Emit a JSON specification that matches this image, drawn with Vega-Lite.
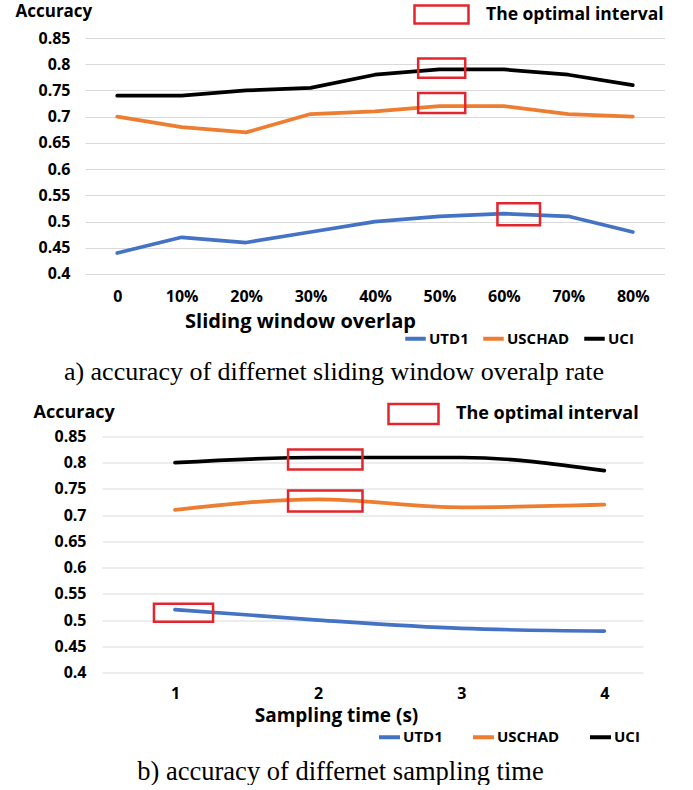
{
  "$schema": "https://vega.github.io/schema/vega-lite/v6.json",
  "background": "white",
  "padding": {"left": 14, "top": 2, "right": 0, "bottom": 0},
  "spacing": 17.5,
  "resolve": {"scale": {"color": "independent", "stroke": "independent", "x": "independent", "y": "independent"}, "legend": {"color": "independent", "stroke": "independent"}},
  "config": {
    "view": {"stroke": null},
    "font": "Open Sans",
    "axis": {"labelColor": "black", "titleColor": "black", "labelFontWeight": "bold", "titleFontWeight": "bold", "labelOverlap": false, "tickCount": 20},
    "legend": {"labelColor": "black", "labelFontWeight": "bold", "labelLimit": 400}
  },
  "datasets": {
    "a_lines": [
      {"overlap": 0, "dataset": "UTD1", "accuracy": 0.44},
      {"overlap": 10, "dataset": "UTD1", "accuracy": 0.47},
      {"overlap": 20, "dataset": "UTD1", "accuracy": 0.46},
      {"overlap": 30, "dataset": "UTD1", "accuracy": 0.48},
      {"overlap": 40, "dataset": "UTD1", "accuracy": 0.50},
      {"overlap": 50, "dataset": "UTD1", "accuracy": 0.51},
      {"overlap": 60, "dataset": "UTD1", "accuracy": 0.515},
      {"overlap": 70, "dataset": "UTD1", "accuracy": 0.51},
      {"overlap": 80, "dataset": "UTD1", "accuracy": 0.48},
      {"overlap": 0, "dataset": "USCHAD", "accuracy": 0.70},
      {"overlap": 10, "dataset": "USCHAD", "accuracy": 0.68},
      {"overlap": 20, "dataset": "USCHAD", "accuracy": 0.67},
      {"overlap": 30, "dataset": "USCHAD", "accuracy": 0.705},
      {"overlap": 40, "dataset": "USCHAD", "accuracy": 0.71},
      {"overlap": 50, "dataset": "USCHAD", "accuracy": 0.72},
      {"overlap": 60, "dataset": "USCHAD", "accuracy": 0.72},
      {"overlap": 70, "dataset": "USCHAD", "accuracy": 0.705},
      {"overlap": 80, "dataset": "USCHAD", "accuracy": 0.70},
      {"overlap": 0, "dataset": "UCI", "accuracy": 0.74},
      {"overlap": 10, "dataset": "UCI", "accuracy": 0.74},
      {"overlap": 20, "dataset": "UCI", "accuracy": 0.75},
      {"overlap": 30, "dataset": "UCI", "accuracy": 0.755},
      {"overlap": 40, "dataset": "UCI", "accuracy": 0.78},
      {"overlap": 50, "dataset": "UCI", "accuracy": 0.79},
      {"overlap": 60, "dataset": "UCI", "accuracy": 0.79},
      {"overlap": 70, "dataset": "UCI", "accuracy": 0.78},
      {"overlap": 80, "dataset": "UCI", "accuracy": 0.76}
    ],
    "a_boxes": [
      {"x1": 46.7, "x2": 54.0, "y1": 0.774, "y2": 0.811},
      {"x1": 46.7, "x2": 54.0, "y1": 0.707, "y2": 0.745},
      {"x1": 59.0, "x2": 65.6, "y1": 0.493, "y2": 0.535}
    ],
    "b_lines": [
      {"time": 1, "dataset": "UTD1", "accuracy": 0.52},
      {"time": 2, "dataset": "UTD1", "accuracy": 0.50},
      {"time": 3, "dataset": "UTD1", "accuracy": 0.484},
      {"time": 4, "dataset": "UTD1", "accuracy": 0.479},
      {"time": 1, "dataset": "USCHAD", "accuracy": 0.71},
      {"time": 2, "dataset": "USCHAD", "accuracy": 0.73},
      {"time": 3, "dataset": "USCHAD", "accuracy": 0.715},
      {"time": 4, "dataset": "USCHAD", "accuracy": 0.72},
      {"time": 1, "dataset": "UCI", "accuracy": 0.80},
      {"time": 2, "dataset": "UCI", "accuracy": 0.81},
      {"time": 3, "dataset": "UCI", "accuracy": 0.81},
      {"time": 4, "dataset": "UCI", "accuracy": 0.785}
    ],
    "b_boxes": [
      {"x1": 1.79, "x2": 2.31, "y1": 0.787, "y2": 0.825},
      {"x1": 1.79, "x2": 2.31, "y1": 0.707, "y2": 0.747},
      {"x1": 0.853, "x2": 1.266, "y1": 0.497, "y2": 0.531}
    ],
    "empty": []
  },
  "vconcat": [
    {
      "spacing": 0,
      "resolve": {"scale": {"color": "independent", "stroke": "independent"}, "legend": {"color": "independent", "stroke": "independent"}},
      "hconcat": [
        {
          "width": 1,
          "height": 10,
          "data": {"name": "empty"},
          "mark": "point",
          "encoding": {}
        },
        {
          "width": 580,
          "height": 236,
          "title": {"text": "a) accuracy of differnet sliding window overalp rate", "orient": "bottom", "anchor": "middle", "frame": "group", "font": "Liberation Serif", "fontSize": 26, "fontWeight": "normal", "color": "black", "dx": -41, "offset": 12},
          "layer": [
            {
              "data": {"name": "a_lines"},
              "mark": {"type": "line", "strokeWidth": 3.7, "strokeCap": "round", "strokeJoin": "round"},
              "encoding": {
                "x": {"field": "overlap", "type": "quantitative", "scale": {"domain": [-5, 85], "nice": false, "zero": false},
                  "axis": {"values": [0, 10, 20, 30, 40, 50, 60, 70, 80], "labelExpr": "datum.value == 0 ? '0' : datum.value + '%'", "grid": false, "domain": false, "ticks": false, "labelPadding": 14, "labelFontSize": 16, "labelFlush": false,
                    "title": "Sliding window overlap", "titleFontSize": 20, "titleX": 215, "titleY": 47, "titleAlign": "center", "titleBaseline": "middle"}},
                "y": {"field": "accuracy", "type": "quantitative", "scale": {"domain": [0.3999999, 0.8500001], "nice": false, "zero": false},
                  "axis": {"values": [0.4, 0.45, 0.5, 0.55, 0.6, 0.65, 0.7, 0.75, 0.8, 0.85], "format": ".2~f", "grid": true, "gridColor": "#d9d9d9", "gridWidth": 1, "domain": false, "ticks": false, "labelFontSize": 16, "labelPadding": 15, "labelFlush": false,
                    "title": "Accuracy", "titleAngle": 0, "titleAlign": "left", "titleBaseline": "middle", "titleX": -70, "titleY": -27, "titleFontSize": 17}},
                "color": {"field": "dataset", "type": "nominal", "scale": {"domain": ["UTD1", "USCHAD", "UCI"], "range": ["#4472C4", "#ED7D31", "#000000"]},
                  "legend": {"title": null, "orient": "none", "direction": "horizontal", "legendX": 318, "legendY": 288, "symbolType": "stroke", "symbolStrokeWidth": 4, "symbolSize": 420, "labelFontSize": 15, "labelOffset": 1, "columnPadding": 6}}
              }
            },
            {
              "data": {"name": "a_boxes"},
              "mark": {"type": "rect", "filled": false, "strokeWidth": 2.5},
              "encoding": {
                "x": {"field": "x1", "type": "quantitative"},
                "x2": {"field": "x2"},
                "y": {"field": "y1", "type": "quantitative"},
                "y2": {"field": "y2"},
                "stroke": {"datum": "The optimal interval", "type": "nominal", "scale": {"range": ["#E3262D"]},
                  "legend": {"title": null, "orient": "none", "legendX": 346, "legendY": -34, "symbolType": "M-3,-1H3V1H-3Z", "symbolSize": 324, "symbolStrokeWidth": 2.5, "symbolFillColor": "transparent", "labelFontSize": 17.5, "labelOffset": 34}}
              }
            }
          ]
        }
      ]
    },
    {
      "spacing": 0,
      "resolve": {"scale": {"color": "independent", "stroke": "independent"}, "legend": {"color": "independent", "stroke": "independent"}},
      "hconcat": [
        {
          "width": 19,
          "height": 10,
          "data": {"name": "empty"},
          "mark": "point",
          "encoding": {}
        },
        {
          "width": 541,
          "height": 236,
          "title": {"text": "b) accuracy of differnet sampling time", "orient": "bottom", "anchor": "middle", "frame": "group", "font": "Liberation Serif", "fontSize": 26.5, "fontWeight": "normal", "color": "black", "dx": -32, "offset": 13},
          "layer": [
            {
              "data": {"name": "b_lines"},
              "mark": {"type": "line", "strokeWidth": 3.7, "strokeCap": "round", "strokeJoin": "round", "interpolate": "monotone"},
              "encoding": {
                "x": {"field": "time", "type": "quantitative", "scale": {"domain": [0.49, 4.27], "nice": false, "zero": false},
                  "axis": {"values": [1, 2, 3, 4], "format": "d", "grid": false, "domain": false, "ticks": false, "labelPadding": 13, "labelFontSize": 16, "labelFlush": false,
                    "title": "Sampling time (s)", "titleFontSize": 19, "titleX": 234, "titleY": 43, "titleAlign": "center", "titleBaseline": "middle"}},
                "y": {"field": "accuracy", "type": "quantitative", "scale": {"domain": [0.3999999, 0.8500001], "nice": false, "zero": false},
                  "axis": {"values": [0.4, 0.45, 0.5, 0.55, 0.6, 0.65, 0.7, 0.75, 0.8, 0.85], "format": ".2~f", "grid": true, "gridColor": "#d9d9d9", "gridWidth": 1, "domain": false, "ticks": false, "labelFontSize": 16, "labelPadding": 16, "labelFlush": false,
                    "title": "Accuracy", "titleAngle": 0, "titleAlign": "left", "titleBaseline": "middle", "titleX": -69, "titleY": -24, "titleFontSize": 18}},
                "color": {"field": "dataset", "type": "nominal", "scale": {"domain": ["UTD1", "USCHAD", "UCI"], "range": ["#4472C4", "#ED7D31", "#000000"]},
                  "legend": {"title": null, "orient": "none", "direction": "horizontal", "legendX": 275, "legendY": 288, "symbolType": "stroke", "symbolStrokeWidth": 4, "symbolSize": 441, "labelFontSize": 15, "labelOffset": 1, "columnPadding": 22}}
              }
            },
            {
              "data": {"name": "b_boxes"},
              "mark": {"type": "rect", "filled": false, "strokeWidth": 2.5},
              "encoding": {
                "x": {"field": "x1", "type": "quantitative"},
                "x2": {"field": "x2"},
                "y": {"field": "y1", "type": "quantitative"},
                "y2": {"field": "y2"},
                "stroke": {"datum": "The optimal interval", "type": "nominal", "scale": {"range": ["#E3262D"]},
                  "legend": {"title": null, "orient": "none", "legendX": 300, "legendY": -34, "symbolType": "M-2.5,-1H2.5V1H-2.5Z", "symbolSize": 400, "symbolStrokeWidth": 2.5, "symbolFillColor": "transparent", "labelFontSize": 18, "labelOffset": 31}}
              }
            }
          ]
        }
      ]
    }
  ]
}
